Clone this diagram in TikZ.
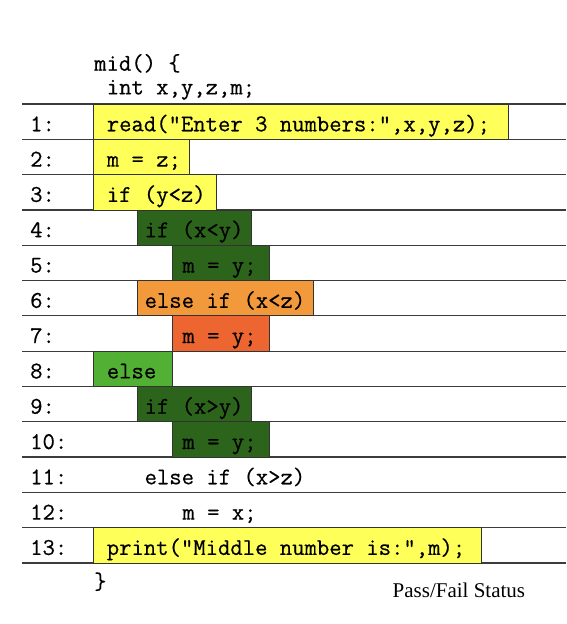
\documentclass[tikz,border=0pt]{standalone}
\usepackage{fontspec}
\newfontfamily\timesf{Liberation Serif}
\newfontfamily\codef[FakeBold=0.5]{Latin Modern Mono}
\definecolor{cyel}{RGB}{255,255,90}
\definecolor{cdkg}{RGB}{45,100,28}
\definecolor{cora}{RGB}{241,153,59}
\definecolor{cred}{RGB}{237,101,48}
\definecolor{cltg}{RGB}{82,176,52}
\definecolor{cline}{RGB}{60,60,60}
\begin{document}
\begin{tikzpicture}[x=1pt,y=-1pt,
  rowline/.style={draw=cline,line width=1.2pt},
  cbox/.style={draw=black!80,line width=0.8pt},
  code/.style={anchor=base west,inner sep=0pt,font=\codef\fontsize{24}{28}\selectfont},
  lnum/.style={code},
  status/.style={anchor=base west,inner sep=0pt,font=\timesf\fontsize{21}{24}\selectfont}]
\useasboundingbox[fill=white] (0,0) rectangle (566,624);
% row separator lines
\foreach \yy in {104,139.3,174.6,209.9,245.2,280.5,315.8,351.1,386.4,421.7,457.0,492.3,527.6,562.9}
  \draw[rowline] (22,\yy) -- (566,\yy);
% coloured boxes
\draw[cbox,fill=cyel] (93,104) rectangle (508,139.3);
\draw[cbox,fill=cyel] (93,139.3) rectangle (189.5,174.6);
\draw[cbox,fill=cyel] (93,174.6) rectangle (216,209.9);
\draw[cbox,fill=cdkg] (137,209.9) rectangle (251.5,245.2);
\draw[cbox,fill=cdkg] (172.5,245.2) rectangle (269,280.5);
\draw[cbox,fill=cora] (137,280.5) rectangle (313.5,315.8);
\draw[cbox,fill=cred] (172.5,315.8) rectangle (269,351.1);
\draw[cbox,fill=cltg] (93,351.1) rectangle (172.5,386.4);
\draw[cbox,fill=cdkg] (137,386.4) rectangle (251.5,421.7);
\draw[cbox,fill=cdkg] (172.5,421.7) rectangle (269,457.0);
\draw[cbox,fill=cyel] (93,527.6) rectangle (481,562.9);
% header
\node[code] (hmid) at (94,70.7) {mid() \{};
\node[code] (hint) at (106.6,94.4) {int x,y,z,m;};
% line numbers
\node[lnum] (n1) at (30,131.3) {1:};
\node[lnum] (n2) at (30,166.6) {2:};
\node[lnum] (n3) at (30,201.9) {3:};
\node[lnum] (n4) at (30,237.2) {4:};
\node[lnum] (n5) at (30,272.5) {5:};
\node[lnum] (n6) at (30,307.8) {6:};
\node[lnum] (n7) at (30,343.1) {7:};
\node[lnum] (n8) at (30,378.4) {8:};
\node[lnum] (n9) at (30,413.7) {9:};
\node[lnum] (n10) at (30,449.0) {10:};
\node[lnum] (n11) at (30,484.3) {11:};
\node[lnum] (n12) at (30,519.6) {12:};
\node[lnum] (n13) at (30,554.9) {13:};
% code lines
\node[code] (c1) at (106.6,131.3) {read("Enter 3 numbers:",x,y,z);};
\node[code] (c2) at (106.6,166.6) {m = z;};
\node[code] (c3) at (106.6,201.9) {if (y<z)};
\node[code] (c4) at (144.4,237.2) {if (x<y)};
\node[code] (c5) at (182.2,272.5) {m = y;};
\node[code] (c6) at (144.4,307.8) {else if (x<z)};
\node[code] (c7) at (182.2,343.1) {m = y;};
\node[code] (c8) at (106.6,378.4) {else};
\node[code] (c9) at (144.4,413.7) {if (x>y)};
\node[code] (c10) at (182.2,449.0) {m = y;};
\node[code] (c11) at (144.4,484.3) {else if (x>z)};
\node[code] (c12) at (182.2,519.6) {m = x;};
\node[code] (c13) at (106.6,554.9) {print("Middle number is:",m);};
\node[code] (cend) at (94,589) {\}};
\node[status] (pf) at (392.5,597.5) {Pass/Fail Status};
\end{tikzpicture}
\end{document}
